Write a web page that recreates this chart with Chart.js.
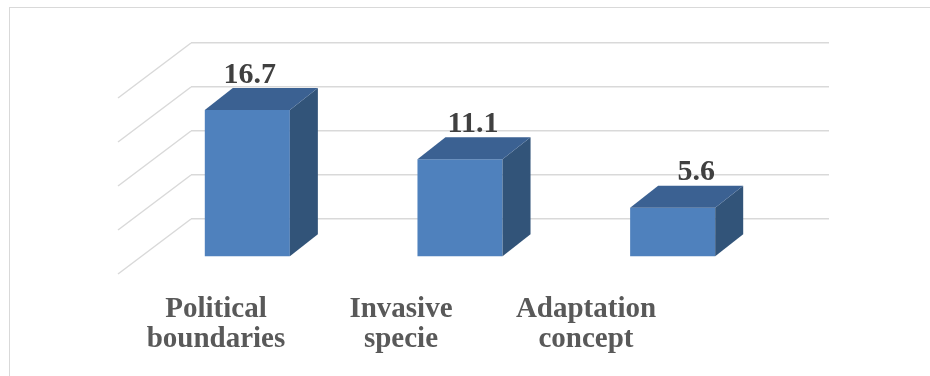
<!DOCTYPE html>
<html>
<head>
<meta charset="utf-8">
<script src="https://cdn.jsdelivr.net/npm/chart.js@4"></script>
<style>
  html, body { margin: 0; padding: 0; background: #fff; }
  #wrap { position: relative; width: 930px; height: 376px; overflow: hidden; }
  #frame { position: absolute; left: 9px; top: 7px; width: 940px; height: 400px; border: 1px solid #d9d9d9; box-sizing: border-box; }
  canvas { position: absolute; left: 0; top: 0; }
</style>
</head>
<body>
<div id="wrap">
  <div id="frame"></div>
  <canvas id="chart" width="930" height="376"></canvas>
</div>
<script>
// Categories and values
const categories = ['Political boundaries', 'Invasive specie', 'Adaptation concept'];
const values = [16.7, 11.1, 5.6];
const yTicks = [0, 5, 10, 15, 20];

// Oblique projection: where the bars stand in front of the back wall,
// and how deep each bar box is
const FRONT_DX = -50, FRONT_DY = 38;
const DEPTH_DX = 28, DEPTH_DY = -22;
// Floor / side wall depth, from back wall to the front edge
const WALL_DX = -73, WALL_DY = 55;
// Value labels drift right with a slight perspective
const LABEL_DRIFT = 0.05, LABEL_DRIFT_ORIGIN = 200;

const FACE = '#4f81bd', TOP = '#3b6192', SIDE = '#325479';
const LABEL_FONT = "bold 30px 'Liberation Serif', serif";

// Side wall lines, drawn from the y scale ticks
const sideWall = {
  id: 'sideWall',
  beforeDatasetsDraw(chart) {
    const { ctx, chartArea, scales } = chart;
    ctx.save();
    ctx.strokeStyle = '#d9d9d9';
    ctx.lineWidth = 1.5;
    yTicks.forEach(v => {
      const y = scales.y.getPixelForValue(v);
      ctx.beginPath();
      ctx.moveTo(chartArea.left, y);
      ctx.lineTo(chartArea.left + WALL_DX, y + WALL_DY);
      ctx.stroke();
    });
    ctx.restore();
  }
};

// Moves the bars forward and adds their top and side faces plus value labels
const bars3d = {
  id: 'bars3d',
  beforeDatasetsDraw(chart) {
    chart.ctx.save();
    chart.ctx.translate(FRONT_DX, FRONT_DY);
  },
  afterDatasetsDraw(chart) {
    const ctx = chart.ctx;
    const meta = chart.getDatasetMeta(0);
    meta.data.forEach((el, i) => {
      const { x, y, base, width } = el.getProps(['x', 'y', 'base', 'width'], true);
      const l = x - width / 2, r = x + width / 2;
      // side face
      ctx.fillStyle = SIDE;
      ctx.beginPath();
      ctx.moveTo(r, y);
      ctx.lineTo(r + DEPTH_DX, y + DEPTH_DY);
      ctx.lineTo(r + DEPTH_DX, base + DEPTH_DY);
      ctx.lineTo(r, base);
      ctx.closePath();
      ctx.fill();
      // top face
      ctx.fillStyle = TOP;
      ctx.beginPath();
      ctx.moveTo(l, y);
      ctx.lineTo(l + DEPTH_DX, y + DEPTH_DY);
      ctx.lineTo(r + DEPTH_DX, y + DEPTH_DY);
      ctx.lineTo(r, y);
      ctx.closePath();
      ctx.fill();
      // value label
      const fx = x + FRONT_DX;
      ctx.fillStyle = '#404040';
      ctx.font = LABEL_FONT;
      ctx.textAlign = 'center';
      ctx.textBaseline = 'alphabetic';
      ctx.fillText(String(chart.data.datasets[0].data[i]),
        x + (fx - LABEL_DRIFT_ORIGIN) * LABEL_DRIFT, y + DEPTH_DY - 5.5);
    });
    ctx.restore();
  }
};

new Chart(document.getElementById('chart'), {
  type: 'bar',
  data: {
    labels: categories,
    datasets: [{
      data: values,
      backgroundColor: FACE,
      borderWidth: 0,
      barPercentage: 0.4,
      categoryPercentage: 1.0,
      clip: false
    }]
  },
  options: {
    responsive: false,
    animation: false,
    events: [],
    layout: { padding: { left: 191, right: 101, top: 43, bottom: 0 } },
    plugins: { legend: { display: false }, tooltip: { enabled: false } },
    scales: {
      x: { type: 'category', display: false },
      y: {
        min: 0, max: 20,
        ticks: { display: false, stepSize: 5 },
        grid: { color: '#d9d9d9', lineWidth: 1.5, drawTicks: false },
        border: { display: false },
        afterFit(s) { s.width = 0; }
      },
      labelAxis: {
        type: 'linear',
        position: 'bottom',
        offset: false,
        min: -0.135, max: 3.3135,
        afterBuildTicks(s) { s.ticks = categories.map((c, i) => ({ value: i })); },
        ticks: {
          padding: 67,
          color: '#595959',
          font: { family: "'Liberation Serif', serif", size: 29, weight: 'bold', lineHeight: 1.05 },
          maxRotation: 0,
          autoSkip: false,
          callback: v => categories[v] ? categories[v].split(' ') : ''
        },
        grid: { display: false, offset: false },
        border: { display: false },
        afterFit(s) { s.height = 157; }
      }
    }
  },
  plugins: [sideWall, bars3d]
});
</script>
</body>
</html>
